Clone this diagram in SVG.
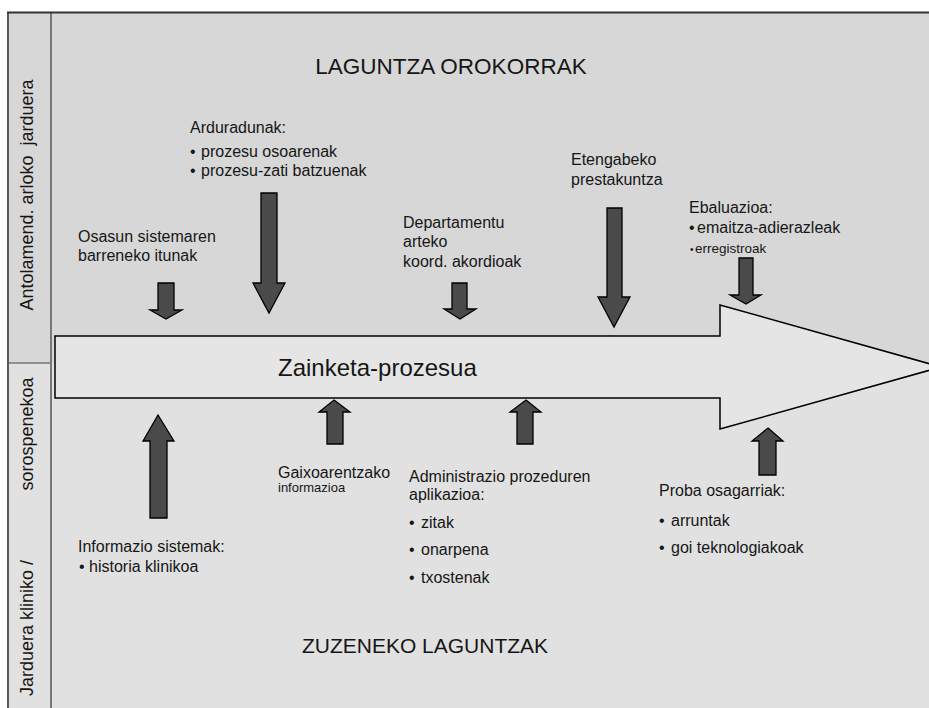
<svg xmlns="http://www.w3.org/2000/svg" width="929" height="708" viewBox="0 0 929 708">
<style>
text{font-family:"Liberation Sans",Arial,sans-serif;fill:#161616;}
.lbl{font-size:16px;}
.sm{font-size:13px;}
.side{font-size:18px;white-space:pre;}
.arr{fill:#4a4a4a;stroke:#000;stroke-width:1.3;stroke-linejoin:miter;}
</style>
<rect x="0" y="0" width="929" height="708" fill="#ffffff"/>
<g id="background">
<rect x="7" y="12" width="922" height="351" fill="#d7d7d7"/>
<rect x="7" y="363" width="922" height="345" fill="#e1e1e1"/>
<line x1="51" y1="12" x2="51" y2="708" stroke="#777" stroke-width="2"/>
<line x1="7" y1="363" x2="51" y2="363" stroke="#777" stroke-width="1.5"/>
<line x1="8" y1="12" x2="8" y2="708" stroke="#5a5a5a" stroke-width="2"/>
<line x1="7" y1="12.5" x2="929" y2="12.5" stroke="#333" stroke-width="2"/>
</g>
<g id="side-labels">
<text class="side" transform="translate(33,195) rotate(-90)" text-anchor="middle">Antolamend. arloko  jarduera</text>
<text class="side" transform="translate(33,434) rotate(-90)" text-anchor="middle">sorospenekoa</text>
<text class="side" transform="translate(33,628) rotate(-90)" text-anchor="middle">Jarduera kliniko /</text>
</g>
<g id="titles">
<text x="451" y="74" font-size="22.5" text-anchor="middle">LAGUNTZA OROKORRAK</text>
<text x="425" y="653" font-size="21" text-anchor="middle">ZUZENEKO LAGUNTZAK</text>
</g>
<g id="main-process">
<polygon points="55,336 720,336 720,305 941,367 720,429 720,398 55,398" fill="#e5e5e5" stroke="#000" stroke-width="1.5"/>
<text x="278" y="376" font-size="24">Zainketa-prozesua</text>
</g>
<g id="connectors">
<polygon class="arr" points="158,283 174,283 174,310 182,310 166,319 150,310 158,310"/>
<polygon class="arr" points="261,193 277,193 277,283 285,283 269,313 253,283 261,283"/>
<polygon class="arr" points="452,283 467,283 467,309 476,309 460,319 444,309 452,309"/>
<polygon class="arr" points="607,208 622,208 622,297 630,297 614,327 598,297 607,297"/>
<polygon class="arr" points="739,258 753,258 753,295 761,295 746,304 730,295 739,295"/>
<polygon class="arr" points="158,415 174,441 167,441 167,518 150,518 150,441 143,441"/>
<polygon class="arr" points="334,400 350,412 343,412 343,444 327,444 327,412 319,412"/>
<polygon class="arr" points="526,400 541,412 533,412 533,444 517,444 517,412 510,412"/>
<polygon class="arr" points="768,428 783,441 776,441 776,475 759,475 759,441 752,441"/>
</g>
<g id="osasun">
<text class="lbl" x="78" y="242">Osasun sistemaren</text>
<text class="lbl" x="78" y="261">barreneko itunak</text>
</g>
<g id="arduradunak">
<text class="lbl" x="190" y="133">Arduradunak:</text>
<text class="lbl" x="190" y="157">•<tspan x="201">prozesu osoarenak</tspan></text>
<text class="lbl" x="190" y="176">•<tspan x="201">prozesu-zati batzuenak</tspan></text>
</g>
<g id="departamentu">
<text class="lbl" x="403" y="228">Departamentu</text>
<text class="lbl" x="403" y="247">arteko</text>
<text class="lbl" x="403" y="267">koord. akordioak</text>
</g>
<g id="etengabeko">
<text class="lbl" x="571" y="165">Etengabeko</text>
<text class="lbl" x="571" y="185">prestakuntza</text>
</g>
<g id="ebaluazioa">
<text class="lbl" x="689" y="213">Ebaluazioa:</text>
<text class="lbl" x="689" y="233">•<tspan x="697">emaitza-adierazleak</tspan></text>
<text x="690" y="253" font-size="10">•<tspan x="695" font-size="13.5">erregistroak</tspan></text>
</g>
<g id="informazio">
<text class="lbl" x="78" y="552">Informazio sistemak:</text>
<text class="lbl" x="79" y="572">•<tspan x="89">historia klinikoa</tspan></text>
</g>
<g id="gaixoarentzako">
<text class="lbl" x="278" y="478">Gaixoarentzako</text>
<text class="sm" x="278" y="492">informazioa</text>
</g>
<g id="administrazio">
<text class="lbl" x="409" y="482">Administrazio prozeduren</text>
<text class="lbl" x="409" y="500">aplikazioa:</text>
<text class="lbl" x="409" y="528">•<tspan x="421">zitak</tspan></text>
<text class="lbl" x="409" y="555">•<tspan x="421">onarpena</tspan></text>
<text class="lbl" x="409" y="583">•<tspan x="421">txostenak</tspan></text>
</g>
<g id="proba">
<text class="lbl" x="659" y="496">Proba osagarriak:</text>
<text class="lbl" x="659" y="526">•<tspan x="671">arruntak</tspan></text>
<text class="lbl" x="659" y="553">•<tspan x="671">goi teknologiakoak</tspan></text>
</g>
</svg>
